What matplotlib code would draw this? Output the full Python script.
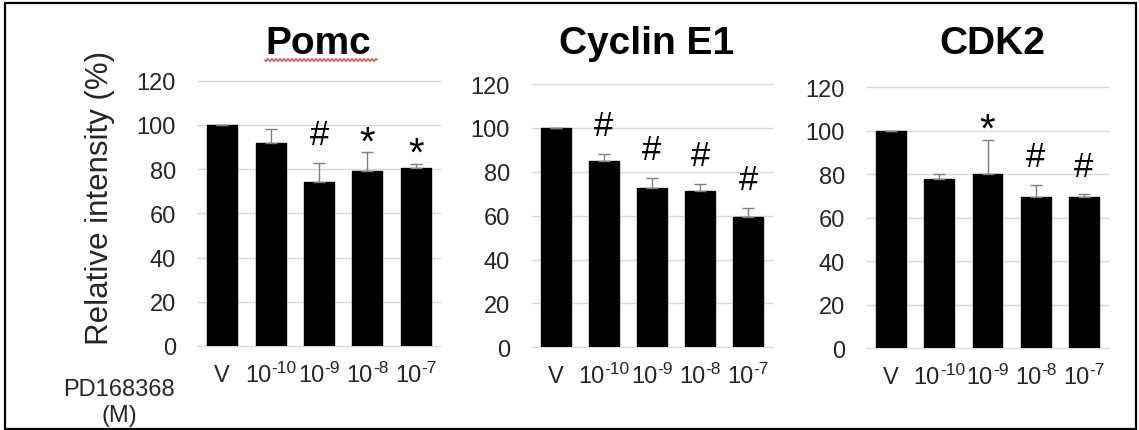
import numpy as np
import matplotlib
matplotlib.use("Agg")
import matplotlib.pyplot as plt
from matplotlib.patches import Rectangle
from matplotlib.lines import Line2D
from matplotlib.transforms import blended_transform_factory, offset_copy

plt.rcParams["font.family"] = ["Liberation Sans", "DejaVu Sans"]

# Doses of PD168368 (M): base text and exponent
dose_base = ["V", "10", "10", "10", "10"]
dose_exp = ["", "-10", "-9", "-8", "-7"]

titles = ["Pomc", "Cyclin E1", "CDK2"]

pomc_mean = [100, 92, 74, 79, 80.5]
pomc_err = [0, 6, 9, 8.7, 2]
pomc_sig = ["", "", "#", "*", "*"]

cyclin_mean = [100, 85, 72.7, 71.4, 59.4]
cyclin_err = [0, 3.3, 4.6, 3.2, 4.3]
cyclin_sig = ["", "#", "#", "#", "#"]

cdk2_mean = [100, 78, 80, 69.6, 69.6]
cdk2_err = [0, 2, 16, 5.5, 1.3]
cdk2_sig = ["", "", "*", "#", "#"]

yticks = [0, 20, 40, 60, 80, 100, 120]

W, H = 1139, 431
fig = plt.figure(figsize=(W / 100, H / 100), dpi=100)
renderer = fig.canvas.get_renderer()


def px_box(left, right, bottom, top):
    return [left / W, 1 - bottom / H, (right - left) / W, (bottom - top) / H]


boxes = [px_box(198, 440, 347, 81.7),
         px_box(532, 772, 348.3, 85),
         px_box(867, 1108, 349.3, 88.3)]
title_x = [318, 647, 992]

panels = [(pomc_mean, pomc_err, pomc_sig),
          (cyclin_mean, cyclin_err, cyclin_sig),
          (cdk2_mean, cdk2_err, cdk2_sig)]

tick_color = "#262626"
grid_color = "#d9d9d9"
label_size = 17
exp_size = 12.5


def dose_label(ax, xi, base, exp):
    """Draw a dose label such as 10 with a raised exponent, centred on xi."""
    trans = blended_transform_factory(ax.transData, ax.transAxes)
    t1 = ax.text(xi, 0, base, transform=trans, fontsize=label_size,
                 color=tick_color, ha="left", va="baseline")
    w1 = t1.get_window_extent(renderer).width
    w2 = 0.0
    t2 = None
    if exp:
        t2 = ax.text(xi, 0, exp, transform=trans, fontsize=exp_size,
                     color=tick_color, ha="left", va="baseline")
        w2 = t2.get_window_extent(renderer).width
    total = w1 + w2
    t1.set_transform(offset_copy(trans, fig=fig, x=-total / 2, y=-35,
                                 units="dots"))
    if t2 is not None:
        t2.set_transform(offset_copy(trans, fig=fig, x=-total / 2 + w1,
                                     y=-26, units="dots"))


for i, (box, (mean, err, sig)) in enumerate(zip(boxes, panels)):
    ax = fig.add_axes(box)
    x = np.arange(len(dose_base))
    ax.bar(x, mean, width=0.62, color="black", edgecolor="black", zorder=3)
    ax.errorbar(x, mean, yerr=[np.zeros(len(err)), err], fmt="none",
                ecolor="#7f7f7f", elinewidth=1.0, capsize=4.3, capthick=1.0,
                zorder=4)
    for xi, m, e, s in zip(x, mean, err, sig):
        if not s:
            continue
        if s == "#":
            off, fs = 13.3, 25
        else:
            off, fs = -1, 29
        ax.annotate(s, xy=(xi, m + e), xytext=(0, off),
                    textcoords="offset points", ha="center", va="baseline",
                    fontsize=fs, color="black", zorder=5)
    ax.set_xlim(-0.5, len(dose_base) - 0.5)
    ax.set_ylim(0, 120)
    ax.set_yticks(yticks)
    ax.set_xticks([])
    ax.tick_params(axis="y", labelsize=17, labelcolor=tick_color, length=0,
                   pad=15.8)
    for sp in ax.spines.values():
        sp.set_visible(False)
    ax.set_axisbelow(True)
    for yv in yticks:
        ax.axhline(yv, color=grid_color, linewidth=1.0, zorder=0,
                   clip_on=False)
    for xi, b, e in zip(x, dose_base, dose_exp):
        dose_label(ax, xi, b, e)
    fig.text(title_x[i] / W, 1 - 44.5 / H, titles[i], fontsize=28,
             fontweight="bold", ha="center", va="center", color="black")

# Y-axis label shared by the panels
fig.text(100 / W, 1 - 198 / H, "Relative intensity (%)", rotation=90,
         fontsize=22.5, ha="center", va="center", color=tick_color)

# Dose axis caption
fig.text(119 / W, 1 - 403 / H, "PD168368\n(M)", fontsize=17,
         ha="center", va="center", multialignment="center",
         color=tick_color, linespacing=1.2)

# Spell-check style wavy underline beneath "Pomc"
wx = np.linspace(265, 377, 300)
wy = 61 + 1.3 * np.sin((wx - 265) / 4.0 * 2 * np.pi)
fig.add_artist(Line2D(wx / W, 1 - wy / H, color="#e8393a", linewidth=0.9))

# Outer frame
fig.add_artist(Rectangle((5 / W, 1 - 429.5 / H), (1136 - 5) / W,
                         (429.5 - 4) / H, fill=False, edgecolor="black",
                         linewidth=1.6, transform=fig.transFigure))

fig.savefig("out.png", dpi=100)
